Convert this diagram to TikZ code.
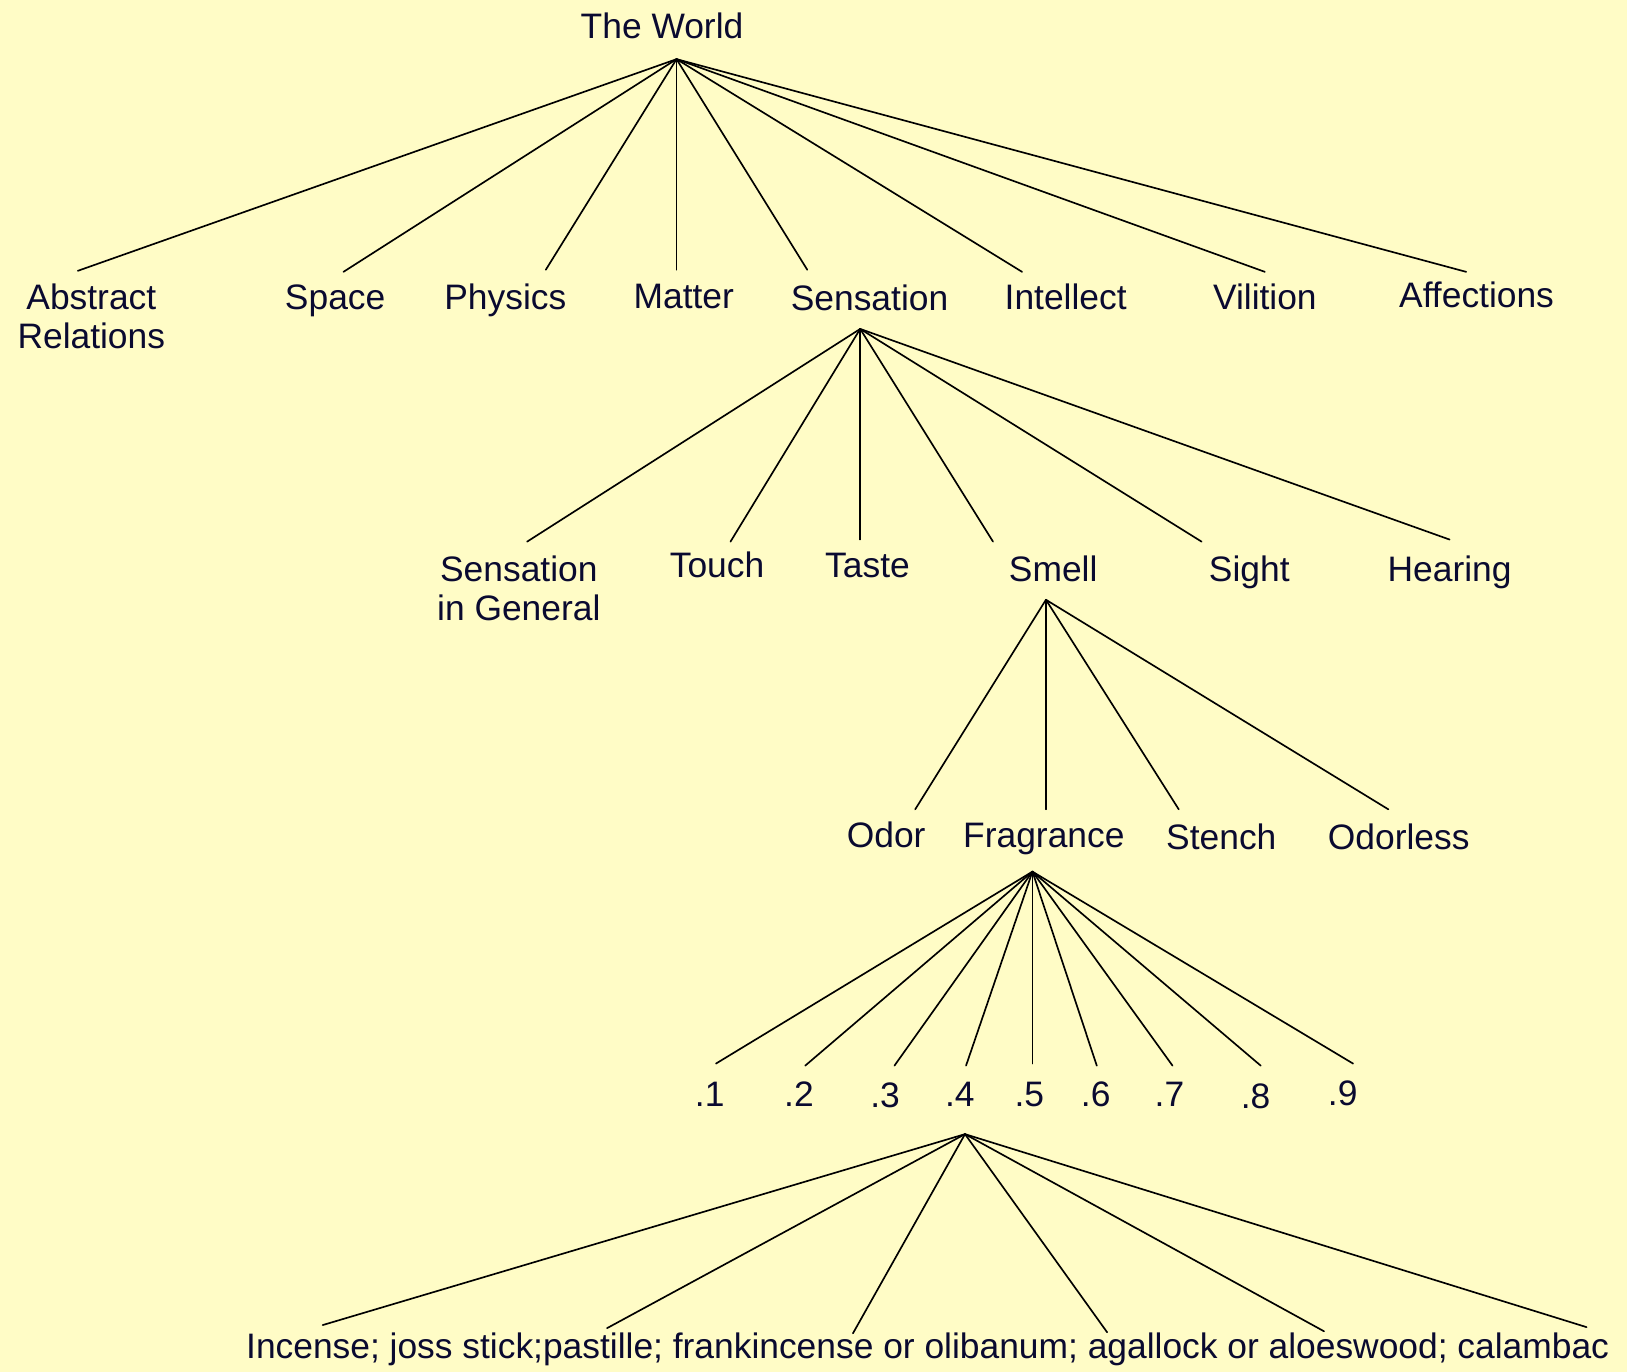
\documentclass[tikz,border=0pt]{standalone}
\usepackage{fontspec}
\setmainfont{Liberation Sans}
\definecolor{paper}{RGB}{255,252,198}
\definecolor{ink}{RGB}{10,10,48}
\begin{document}
\begin{tikzpicture}[x=0.5pt,y=-0.5pt,
  lbl/.style={anchor=base,inner sep=0pt,text=ink,font=\fontsize{17.05}{19}\selectfont},
  lbltwo/.style={anchor=north,inner sep=0pt,text=ink,align=center,font=\fontsize{17.05}{19}\selectfont},
  branch/.style={draw=black,line width=0.8pt,line cap=round}]
\fill[paper] (0,0) rectangle (1568,1322);
\useasboundingbox (0,0) rectangle (1568,1322);

% ---------- labels ----------
\node[lbl] (world) at (638,37) {The World};

\node[lbltwo] (abs) at (88,273) {Abstract\\Relations};
\node[lbl] (space) at (323,298) {Space};
\node[lbl] (phys) at (487,298) {Physics};
\node[lbl] (matter) at (659,297) {Matter};
\node[lbl] (sens) at (838,299) {Sensation};
\node[lbl] (intel) at (1027,298) {Intellect};
\node[lbl] (vili) at (1219,298) {Vilition};
\node[lbl] (affe) at (1423,296) {Affections};

\node[lbltwo] (sgen) at (500,535) {Sensation\\in General};
\node[lbl] (touch) at (691,557) {Touch};
\node[lbl] (taste) at (836,557) {Taste};
\node[lbl] (smell) at (1015,560) {Smell};
\node[lbl] (sight) at (1204,560) {Sight};
\node[lbl] (hear) at (1397,560) {Hearing};

\node[lbl] (odor) at (854,817) {Odor};
\node[lbl] (frag) at (1006,817) {Fragrance};
\node[lbl] (stench) at (1177,819) {Stench};
\node[lbl] (odorl) at (1348,819) {Odorless};

\node[lbl] (d1) at (684,1066) {.1};
\node[lbl] (d2) at (770,1066) {.2};
\node[lbl] (d3) at (853,1067) {.3};
\node[lbl] (d4) at (925,1066) {.4};
\node[lbl] (d5) at (992,1066) {.5};
\node[lbl] (d6) at (1056,1066) {.6};
\node[lbl] (d7) at (1127,1066) {.7};
\node[lbl] (d8) at (1210,1068) {.8};
\node[lbl] (d9) at (1294,1065) {.9};

\node[lbl] (incense) at (894,1309) {Incense; joss stick;pastille; frankincense or olibanum; agallock or aloeswood; calambac};

% ---------- branching points ----------
\coordinate (world-fork) at (652,57);
\coordinate (sens-fork) at (829,317);
\coordinate (smell-fork) at (1008,578);
\coordinate (frag-fork) at (995,840);
\coordinate (d4-fork) at (930,1093);

% ---------- branch ends ----------
\coordinate (abs-in) at (75,261);
\coordinate (space-in) at (331,262);
\coordinate (phys-in) at (526,260);
\coordinate (matter-in) at (652,260);
\coordinate (sens-in) at (778,260);
\coordinate (intel-in) at (985,262);
\coordinate (vili-in) at (1219,262);
\coordinate (affe-in) at (1413,262);

\coordinate (sgen-in) at (508,522);
\coordinate (touch-in) at (704,522);
\coordinate (taste-in) at (829,520);
\coordinate (smell-in) at (957,522);
\coordinate (sight-in) at (1158,522);
\coordinate (hear-in) at (1397,520);

\coordinate (odor-in) at (882,780);
\coordinate (frag-in) at (1008,780);
\coordinate (stench-in) at (1136,780);
\coordinate (odorl-in) at (1338,780);

\coordinate (d1-in) at (690,1025);
\coordinate (d2-in) at (776,1027);
\coordinate (d3-in) at (862,1027);
\coordinate (d4-in) at (931,1027);
\coordinate (d5-in) at (995,1025);
\coordinate (d6-in) at (1057,1027);
\coordinate (d7-in) at (1130,1027);
\coordinate (d8-in) at (1215,1027);
\coordinate (d9-in) at (1304,1025);

\coordinate (inc1-in) at (311,1277);
\coordinate (inc2-in) at (585,1280);
\coordinate (inc3-in) at (822,1285);
\coordinate (inc4-in) at (1067,1284);
\coordinate (inc5-in) at (1276,1283);
\coordinate (inc6-in) at (1529,1279);

% ---------- branches ----------
\foreach \c in {abs,space,phys,matter,sens,intel,vili,affe}
  \draw[branch] (world-fork) -- (\c-in);
\foreach \c in {sgen,touch,taste,smell,sight,hear}
  \draw[branch] (sens-fork) -- (\c-in);
\foreach \c in {odor,frag,stench,odorl}
  \draw[branch] (smell-fork) -- (\c-in);
\foreach \c in {d1,d2,d3,d4,d5,d6,d7,d8,d9}
  \draw[branch] (frag-fork) -- (\c-in);
\foreach \c in {inc1,inc2,inc3,inc4,inc5,inc6}
  \draw[branch] (d4-fork) -- (\c-in);
\end{tikzpicture}
\end{document}
